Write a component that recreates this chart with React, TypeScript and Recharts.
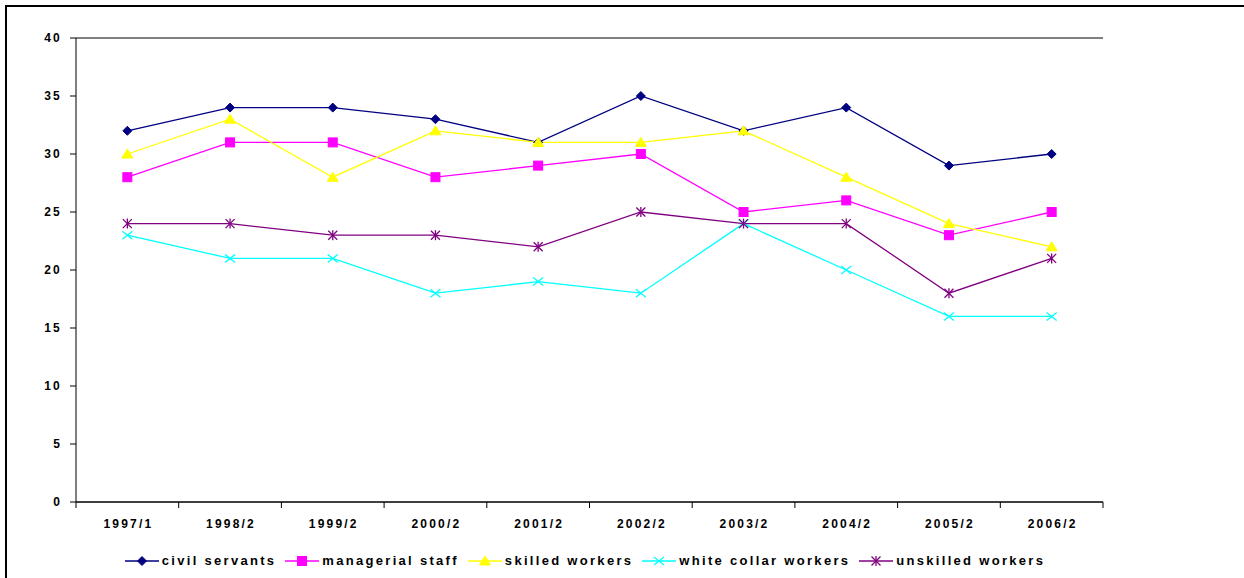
import React from 'react';
import {
  LineChart,
  Line,
  XAxis,
  YAxis,
  CartesianGrid,
  Legend,
} from 'recharts';

const periods = ['1997/1', '1998/2', '1999/2', '2000/2', '2001/2', '2002/2', '2003/2', '2004/2', '2005/2', '2006/2'];
const civilServants = [32, 34, 34, 33, 31, 35, 32, 34, 29, 30];
const managerialStaff = [28, 31, 31, 28, 29, 30, 25, 26, 23, 25];
const skilledWorkers = [30, 33, 28, 32, 31, 31, 32, 28, 24, 22];
const whiteCollarWorkers = [23, 21, 21, 18, 19, 18, 24, 20, 16, 16];
const unskilledWorkers = [24, 24, 23, 23, 22, 25, 24, 24, 18, 21];
const yTicks = [0, 5, 10, 15, 20, 25, 30, 35, 40];

const SERIES = [
  { key: 'civil', name: 'civil servants', color: '#000080', shape: 'diamond' },
  { key: 'managerial', name: 'managerial staff', color: '#FF00FF', shape: 'square' },
  { key: 'skilled', name: 'skilled workers', color: '#FFFF00', shape: 'triangle' },
  { key: 'white', name: 'white collar workers', color: '#00FFFF', shape: 'cross' },
  { key: 'unskilled', name: 'unskilled workers', color: '#800080', shape: 'star' },
];

const data = periods.map((p, i) => ({
  period: p,
  civil: civilServants[i],
  managerial: managerialStaff[i],
  skilled: skilledWorkers[i],
  white: whiteCollarWorkers[i],
  unskilled: unskilledWorkers[i],
}));

const FONT = '"Liberation Sans", Arial, sans-serif';

const markerPath = (shape: string, x: number, y: number, color: string) => {
  switch (shape) {
    case 'diamond':
      return <path d={`M${x},${y - 4.5}L${x + 4.5},${y}L${x},${y + 4.5}L${x - 4.5},${y}Z`} fill={color} stroke={color} />;
    case 'square':
      return <rect x={x - 4.5} y={y - 4.5} width={9} height={9} fill={color} stroke={color} />;
    case 'triangle':
      return <path d={`M${x},${y - 5}L${x + 5.5},${y + 4}L${x - 5.5},${y + 4}Z`} fill={color} stroke={color} />;
    case 'cross':
      return (
        <g stroke={color} strokeWidth={1.3}>
          <line x1={x - 5} y1={y - 4} x2={x + 5} y2={y + 4} />
          <line x1={x - 5} y1={y + 4} x2={x + 5} y2={y - 4} />
        </g>
      );
    case 'star':
    default:
      return (
        <g stroke={color} strokeWidth={1.3}>
          <line x1={x - 4.5} y1={y - 4.5} x2={x + 4.5} y2={y + 4.5} />
          <line x1={x - 4.5} y1={y + 4.5} x2={x + 4.5} y2={y - 4.5} />
          <line x1={x} y1={y - 5} x2={x} y2={y + 5} />
        </g>
      );
  }
};

const makeDot = (shape: string, color: string) => (props: any) => {
  const { cx, cy, index } = props;
  if (cx == null || cy == null) return <g key={index} />;
  return <g key={`${shape}-${index}`}>{markerPath(shape, cx, cy, color)}</g>;
};

const CategoryTick = (props: any) => {
  const { x, y, payload, index, visibleTicksCount } = props;
  const half = payload && payload.offset ? payload.offset : 51.35;
  const axisY = y - 17;
  return (
    <g>
      <line x1={x - half} y1={axisY} x2={x - half} y2={axisY + 6} stroke="#000" />
      {index === visibleTicksCount - 1 && (
        <line x1={x + half} y1={axisY} x2={x + half} y2={axisY + 6} stroke="#000" />
      )}
      <text
        x={x + 1}
        y={y}
        dy="0.71em"
        textAnchor="middle"
        fontFamily={FONT}
        fontWeight="bold"
        fontSize={12}
        letterSpacing={2.2}
        fill="#000"
      >
        {payload.value}
      </text>
    </g>
  );
};

const LegendContent = () => (
  <div
    style={{
      height: 46,
      boxSizing: 'border-box',
      paddingTop: 11,
      display: 'flex',
      justifyContent: 'center',
      alignItems: 'center',
      fontFamily: FONT,
      fontWeight: 'bold',
      fontSize: 13,
      letterSpacing: 2.3,
      lineHeight: '15px',
      color: '#000',
    }}
  >
    {SERIES.map((s) => (
      <div key={s.key} style={{ display: 'flex', alignItems: 'center', marginRight: 9 }}>
        <svg width={34} height={14} style={{ marginRight: 3 }}>
          <line x1={0} y1={7} x2={34} y2={7} stroke={s.color} strokeWidth={1.3} />
          {markerPath(s.shape, 17, 7, s.color)}
        </svg>
        <span>{s.name}</span>
      </div>
    ))}
  </div>
);

export default function App() {
  return (
    <div style={{ position: 'fixed', left: 0, top: 0, width: 1244, height: 578, overflow: 'hidden', background: '#fff' }}>
      <div
        style={{
          position: 'absolute',
          left: 5,
          top: 5,
          width: 1260,
          height: 600,
          border: '2px solid #000',
        }}
      />
      <div style={{ position: 'absolute', left: 0, top: 0 }}>
        <LineChart width={1244} height={578} data={data} margin={{ top: 38, right: 141, left: 0, bottom: 0 }}>
          <CartesianGrid vertical={false} stroke="#000" />
          <XAxis
            dataKey="period"
            scale="band"
            height={30}
            tickLine={false}
            tickSize={6}
            tickMargin={11}
            axisLine={{ stroke: '#000' }}
            tick={<CategoryTick />}
            interval={0}
          />
          <YAxis
            yAxisId="left"
            width={76}
            domain={[0, 40]}
            ticks={yTicks}
            interval={0}
            tickSize={6}
            tickMargin={8}
            axisLine={{ stroke: '#000' }}
            tickLine={{ stroke: '#000' }}
            tick={{ fontFamily: FONT, fontWeight: 'bold', fontSize: 12, letterSpacing: 2.2, fill: '#000' }}
          />
          <YAxis
            yAxisId="right"
            orientation="right"
            width={0}
            domain={[0, 40]}
            tick={false}
            tickLine={false}
            axisLine={{ stroke: '#888' }}
          />
          <Legend verticalAlign="bottom" content={<LegendContent />} wrapperStyle={{ left: 76, width: 1027 }} />
          {SERIES.map((s) => (
            <Line
              key={s.key}
              yAxisId="left"
              type="linear"
              dataKey={s.key}
              name={s.name}
              stroke={s.color}
              strokeWidth={1.3}
              dot={makeDot(s.shape, s.color)}
              activeDot={false}
              isAnimationActive={false}
            />
          ))}
        </LineChart>
      </div>
    </div>
  );
}
